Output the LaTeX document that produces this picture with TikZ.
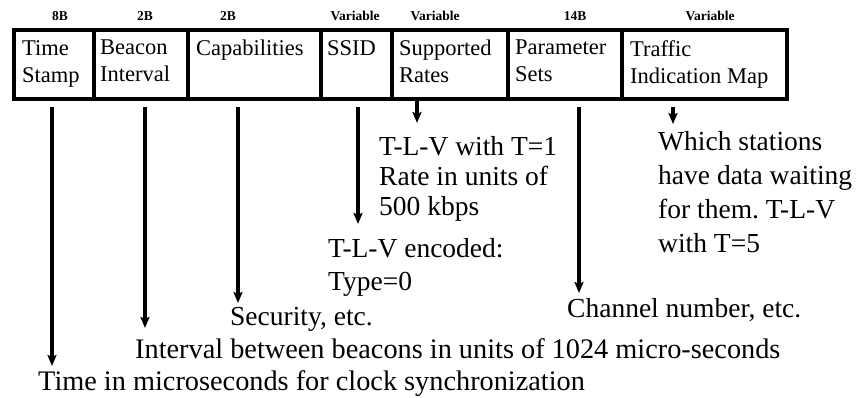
\documentclass[tikz,border=0pt]{standalone}
\usepackage{fontspec}
\setmainfont{Liberation Serif}
\usetikzlibrary{arrows.meta}
\frenchspacing
\begin{document}
\begin{tikzpicture}[x=1pt,y=-1pt,
  cell/.style={draw,line width=4pt,rectangle,minimum height=69pt,inner sep=0pt,anchor=north west},
  celltext/.style={anchor=north west,align=left,inner sep=0pt,font=\fontsize{22.5}{27}\selectfont},
  size/.style={anchor=base,inner sep=0pt,font=\fontsize{13.5}{16}\selectfont\bfseries},
  note/.style={anchor=base west,align=left,inner sep=0pt,font=\fontsize{27.5}{33}\selectfont},
  bignote/.style={note,font=\fontsize{28.3}{33}\selectfont},
  arr/.style={line width=3.2pt,-{Stealth[length=11pt,width=9pt,inset=2pt]}}]
\useasboundingbox (0,0) rectangle (857,397);

% frame fields
\node[cell,minimum width=80pt]  (c1) at (12,28)  {};
\node[cell,minimum width=94pt]  (c2) at (92,28)  {};
\node[cell,minimum width=133pt] (c3) at (186,28) {};
\node[cell,minimum width=71pt]  (c4) at (319,28) {};
\node[cell,minimum width=116pt] (c5) at (390,28) {};
\node[cell,minimum width=114pt] (c6) at (506,28) {};
\node[cell,minimum width=165pt] (c7) at (620,28) {};

% field names
\node[celltext] (t1) at (22,40)  {Time\\Stamp};
\node[celltext] (t2) at (100,40) {Beacon\\Interval};
\node[celltext] (t3) at (196,40) {Capabilities};
\node[celltext] (t4) at (327,40) {SSID};
\node[celltext] (t5) at (399,40) {Supported\\Rates};
\node[celltext] (t6) at (515,40) {Parameter\\Sets};
\node[celltext] (t7) at (630,40) {Traffic\\Indication Map};

% field sizes
\node[size] (s1) at (60,20)  {8B};
\node[size] (s2) at (145,20) {2B};
\node[size] (s3) at (228,20) {2B};
\node[size] (s4) at (355,20) {Variable};
\node[size] (s5) at (435,20) {Variable};
\node[size] (s6) at (575,20) {14B};
\node[size] (s7) at (710,20) {Variable};

% descriptions (anchored at the baseline of their last line)
\node[note,font=\fontsize{27.5}{30}\selectfont] (n5) at (379,215) {T-L-V with T=1\\Rate in units of\\500 kbps};
\node[note,font=\fontsize{27.5}{34}\selectfont] (n7) at (658,252) {Which stations\\have data waiting\\for them. T-L-V\\with T=5};
\node[note] (n4) at (328,290) {T-L-V encoded:\\Type=0};
\node[note] (n6) at (567,317) {Channel number, etc.};
\node[note] (n3) at (230,325) {Security, etc.};
\node[bignote] (n2) at (135,358) {Interval between beacons in units of 1024 micro-seconds};
\node[bignote] (n1) at (38,390)  {Time in microseconds for clock synchronization};

% arrow tips
\coordinate (a1) at (52,366);
\coordinate (a2) at (145,328);
\coordinate (a3) at (238,303);
\coordinate (a4) at (358,224);
\coordinate (a5) at (417,123);
\coordinate (a6) at (579,293);
\coordinate (a7) at (673,124);

\draw[arr] ([yshift=-6pt]c1.south -| a1) -- (a1);
\draw[arr] ([yshift=-6pt]c2.south -| a2) -- (a2);
\draw[arr] ([yshift=-6pt]c3.south -| a3) -- (a3);
\draw[arr] ([yshift=-6pt]c4.south -| a4) -- (a4);
\draw[arr] (c5.south -| a5) -- (a5);
\draw[arr] ([yshift=-6pt]c6.south -| a6) -- (a6);
\draw[arr] ([yshift=-6pt]c7.south -| a7) -- (a7);
\end{tikzpicture}
\end{document}
